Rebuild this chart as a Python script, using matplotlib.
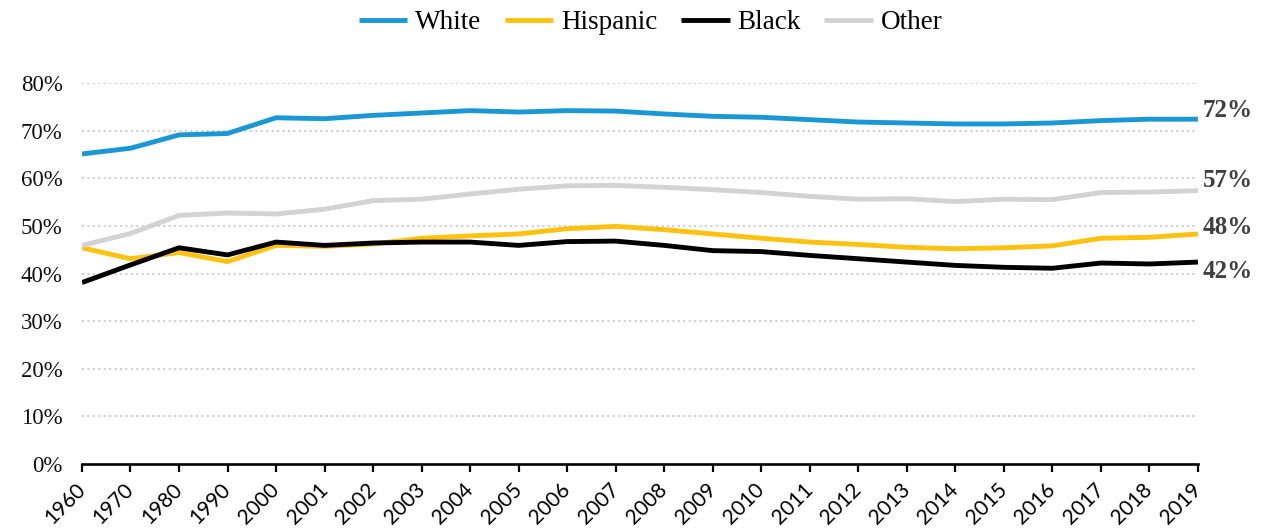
import matplotlib
matplotlib.use("Agg")
import matplotlib.pyplot as plt
import numpy as np

# share of group (%)
years = ["1960", "1970", "1980", "1990", "2000", "2001", "2002", "2003",
         "2004", "2005", "2006", "2007", "2008", "2009", "2010", "2011",
         "2012", "2013", "2014", "2015", "2016", "2017", "2018", "2019"]

white = [65.1, 66.3, 69.1, 69.4, 72.7, 72.5, 73.2, 73.7, 74.2, 73.9, 74.2, 74.1,
         73.5, 73.0, 72.8, 72.3, 71.8, 71.6, 71.4, 71.4, 71.6, 72.1, 72.4, 72.4]
hispanic = [45.4, 43.1, 44.4, 42.5, 45.9, 45.7, 46.2, 47.4, 47.9, 48.3, 49.4, 49.9,
            49.2, 48.3, 47.4, 46.6, 46.1, 45.5, 45.2, 45.4, 45.8, 47.4, 47.6, 48.3]
black = [38.1, 41.8, 45.4, 43.9, 46.6, 45.9, 46.4, 46.6, 46.6, 45.9, 46.7, 46.8,
         45.9, 44.8, 44.6, 43.8, 43.1, 42.4, 41.7, 41.3, 41.1, 42.2, 42.0, 42.4]
other = [45.9, 48.4, 52.2, 52.7, 52.5, 53.5, 55.3, 55.6, 56.7, 57.7, 58.4, 58.5,
         58.1, 57.6, 57.0, 56.2, 55.6, 55.7, 55.1, 55.6, 55.5, 57.0, 57.1, 57.4]

series = [("White", white, "#1a98d5"),
          ("Hispanic", hispanic, "#ffc20e"),
          ("Black", black, "#000000"),
          ("Other", other, "#d3d3d3")]

# label nudges (points) so the end labels don't collide
label_offsets = {"White": 6.5, "Hispanic": 4.3, "Black": -6.5, "Other": 7}

serif = "Liberation Serif"

fig = plt.figure(figsize=(12.61, 5.32), dpi=100)
ax = fig.add_axes([0.065, 0.1278, 0.885, 0.7162])

x = np.arange(len(years))
for name, vals, color in series:
    v = np.array(vals) / 100
    ax.plot(x, v, color=color, lw=3.5, label=name, solid_capstyle="butt",
            solid_joinstyle="round")
    ax.annotate(f"{round(vals[-1])}%", xy=(x[-1], v[-1]),
                xytext=(3.6, label_offsets[name]), textcoords="offset points",
                ha="left", va="center", fontsize=18, fontweight="bold",
                family=serif, color="#404040", annotation_clip=False)

ax.set_xlim(0, len(years) - 1)
ax.set_ylim(0, 0.8)
ax.set_yticks(np.arange(0, 0.81, 0.1))
ax.set_yticklabels([f"{int(t * 100)}%" for t in np.arange(0, 0.81, 0.1)],
                   family=serif, fontsize=16.5, color="#111111")
ax.set_xticks(x)
ax.set_xticklabels(years, rotation=45, ha="right", va="center",
                   rotation_mode="anchor", family="Lato", fontsize=15)

for t in np.arange(0.1, 0.81, 0.1):
    ax.axhline(t, color="#d0d0d0", lw=1.5, ls=(0, (1, 1.6)), zorder=0)

for s in ["top", "right", "left"]:
    ax.spines[s].set_visible(False)
ax.spines["bottom"].set_linewidth(1.9)
ax.tick_params(axis="y", length=0, pad=14)
ax.tick_params(axis="x", direction="out", length=6, width=1.6, pad=10)

fig.legend(loc="center", bbox_to_anchor=(0.516, 0.957), ncol=4, frameon=False,
           prop={"family": serif, "size": 19.5}, handlelength=1.8,
           handletextpad=0.3, columnspacing=0.85)

fig.savefig("out.png", dpi=100)
